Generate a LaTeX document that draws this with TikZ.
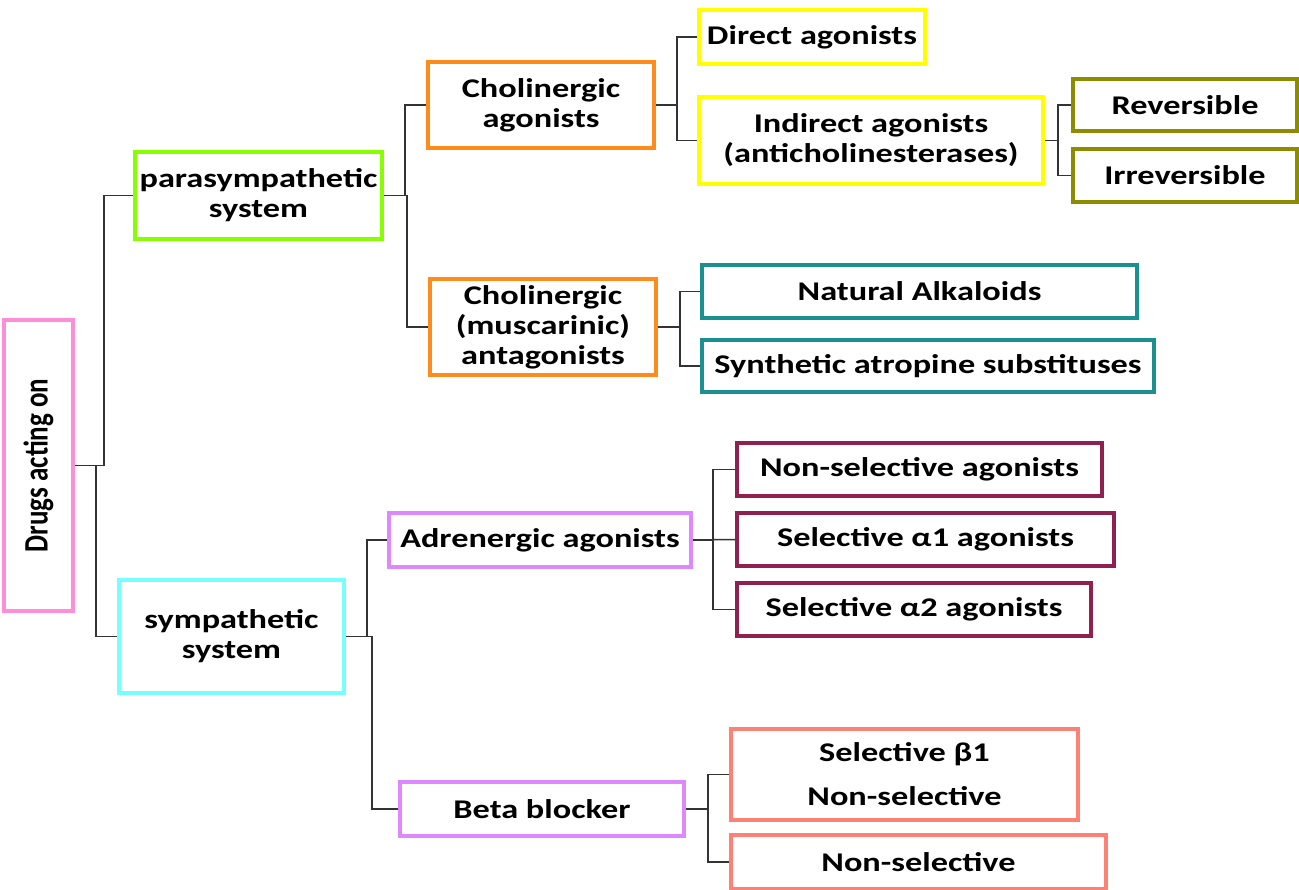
\documentclass[tikz,border=0pt]{standalone}
\usepackage{fontspec}
\setmainfont{Carlito}[FakeStretch=1.27]
\newfontfamily\uprightfont{Carlito}
\definecolor{pinkc}{HTML}{FF8ED8}
\definecolor{greenc}{HTML}{88FF00}
\definecolor{cyanc}{HTML}{77FFFF}
\definecolor{orangec}{HTML}{FF8C1A}
\definecolor{yellowc}{HTML}{FFFF00}
\definecolor{olivec}{HTML}{8C8C00}
\definecolor{tealc}{HTML}{1A9090}
\definecolor{violetc}{HTML}{DD88FF}
\definecolor{maroonc}{HTML}{902050}
\definecolor{salmonc}{HTML}{FF8075}
\begin{document}
\begin{tikzpicture}[x=1pt,y=-1pt,font=\fontsize{27}{30}\selectfont\bfseries, edge/.style={draw=black!80, line width=1.5pt}]
      \tikzstyle{box}=[draw, line width=4pt, inner sep=0pt, align=center]
      \useasboundingbox (0,0) rectangle (1299,890);

      % root
      \node(0)[box,draw=pinkc,minimum width=69,minimum height=291] at (38.5,465.5) {\rotatebox{90}{\scalebox{1}[1.27]{\uprightfont\bfseries Drugs acting on}}};

      % parasympathetic side
      \node(1)[box,draw=greenc,minimum width=247,minimum height=87] at (258.5,195.5) {parasympathetic\\system};
      \node(11)[box,draw=orangec,minimum width=226,minimum height=86] at (541,105) {Cholinergic\\agonists};
      \node(12)[box,draw=orangec,minimum width=226,minimum height=96] at (543,327) {Cholinergic\\(muscarinic)\\antagonists};
      \node(111)[box,draw=yellowc,minimum width=226,minimum height=54] at (812,37) {Direct agonists};
      \node(112)[box,draw=yellowc,minimum width=344,minimum height=87] at (871,140.5) {Indirect agonists\\(anticholinesterases)};
      \node(1121)[box,draw=olivec,minimum width=224,minimum height=52] at (1185,105) {Reversible};
      \node(1122)[box,draw=olivec,minimum width=224,minimum height=53] at (1185,175.5) {Irreversible};
      \node(121)[box,draw=tealc,minimum width=435,minimum height=53] at (919.5,291.5) {Natural Alkaloids};
      \node(122)[box,draw=tealc,minimum width=452,minimum height=52] at (928,366) {Synthetic atropine substituses};

      % sympathetic side
      \node(2)[box,draw=cyanc,minimum width=225,minimum height=113] at (231.5,636.5) {sympathetic\\system};
      \node(21)[box,draw=violetc,minimum width=302,minimum height=54] at (540,540) {Adrenergic agonists};
      \node(22)[box,draw=violetc,minimum width=284,minimum height=54] at (542,809) {Beta blocker};
      \node(211)[box,draw=maroonc,minimum width=365,minimum height=53] at (919.5,469.5) {Non-selective agonists};
      \node(212)[box,draw=maroonc,minimum width=377,minimum height=53] at (925.5,539.5) {Selective α1 agonists};
      \node(213)[box,draw=maroonc,minimum width=354,minimum height=53] at (914,609.5) {Selective α2 agonists};
      \node(221)[box,draw=salmonc,minimum width=347,minimum height=91] at (904.5,774.5) {Selective β1\\[14pt]Non-selective};
      \node(222)[box,draw=salmonc,minimum width=375,minimum height=54] at (918.5,862) {Non-selective};

      % connectors
      \draw[edge] (0.east) -- ++(29,0) |- (1.west);
      \draw[edge] (0.east) -- ++(21,0) |- (2.west);
      \draw[edge] (1.east) -- ++(21,0) |- (11.west);
      \draw[edge] (1.east) -- ++(23,0) |- (12.west);
      \draw[edge] (11.east) -- ++(21,0) |- (111.west);
      \draw[edge] (11.east) -- ++(21,0) |- (112.west);
      \draw[edge] (112.east) -- ++(13,0) |- (1121.west);
      \draw[edge] (112.east) -- ++(13,0) |- (1122.west);
      \draw[edge] (12.east) -- ++(22,0) |- (121.west);
      \draw[edge] (12.east) -- ++(22,0) |- (122.west);
      \draw[edge] (2.east) -- ++(21,0) |- (21.west);
      \draw[edge] (2.east) -- ++(26,0) |- (22.west);
      \draw[edge] (21.east) -- ++(20,0) |- (211.west);
      \draw[edge] (21.east) -- (212.west);
      \draw[edge] (21.east) -- ++(20,0) |- (213.west);
      \draw[edge] (22.east) -- ++(22,0) |- (221.west);
      \draw[edge] (22.east) -- ++(22,0) |- (222.west);
\end{tikzpicture}
\end{document}
